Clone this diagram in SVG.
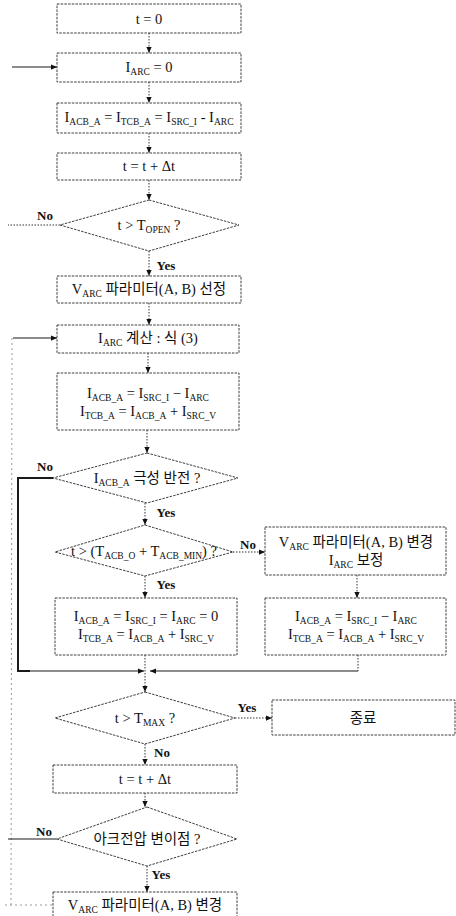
<svg xmlns="http://www.w3.org/2000/svg" width="456" height="916" viewBox="0 0 456 916">
<style>
.b{fill:#fff;stroke:#3c3c3c;stroke-width:1;stroke-dasharray:2.5 1.2}
.c{fill:none;stroke:#333;stroke-width:1;stroke-dasharray:1.5 1.5}
.s{fill:none;stroke:#1a1a1a;stroke-width:1.2}
.th{fill:none;stroke:#1a1a1a;stroke-width:2}
.f{fill:none;stroke:#999;stroke-width:1;stroke-dasharray:2 3}
text{font-family:"Liberation Serif","Noto Sans CJK KR",serif;font-size:14.5px;fill:#111;text-anchor:middle}
.sb{font-size:9.5px}
.lb{font-size:13px;font-weight:bold}
</style>
<defs>
<marker id="ah" viewBox="0 0 8 8" refX="8" refY="4" markerWidth="6" markerHeight="6" orient="auto" markerUnits="userSpaceOnUse">
<path d="M0,0.5 L8,4 L0,7.5 Z" fill="#111"/>
</marker>
</defs>

<g id="connectors">
<line class="c" x1="149" y1="33" x2="149" y2="53" marker-end="url(#ah)"/>
<line class="c" x1="149" y1="82" x2="149" y2="103" marker-end="url(#ah)"/>
<line class="c" x1="149" y1="133" x2="149" y2="153" marker-end="url(#ah)"/>
<line class="c" x1="149" y1="180" x2="149" y2="200" marker-end="url(#ah)"/>
<line class="c" x1="149" y1="251" x2="149" y2="276" marker-end="url(#ah)"/>
<line class="c" x1="149" y1="303" x2="149" y2="325" marker-end="url(#ah)"/>
<line class="c" x1="148" y1="353" x2="148" y2="373" marker-end="url(#ah)"/>
<line class="c" x1="147" y1="430" x2="147" y2="453" marker-end="url(#ah)"/>
<line class="c" x1="145" y1="503" x2="145" y2="525" marker-end="url(#ah)"/>
<line class="c" x1="145" y1="576" x2="145" y2="598" marker-end="url(#ah)"/>
<line class="c" x1="233" y1="552" x2="265" y2="552" marker-end="url(#ah)"/>
<line class="c" x1="357" y1="575" x2="357" y2="598" marker-end="url(#ah)"/>
<line class="c" x1="145" y1="655" x2="145" y2="692" marker-end="url(#ah)"/>
<line class="c" x1="358" y1="655" x2="358" y2="671"/>
<polyline class="s" points="358,671 150,671" marker-end="url(#ah)"/>
<polyline class="th" points="53,478 18,478 18,671 30,671"/>
<line class="s" x1="30" y1="671" x2="144" y2="671" marker-end="url(#ah)"/>
<line class="c" x1="235" y1="718" x2="272" y2="718" marker-end="url(#ah)"/>
<line class="c" x1="145" y1="744" x2="145" y2="765" marker-end="url(#ah)"/>
<line class="c" x1="145" y1="793" x2="145" y2="807" marker-end="url(#ah)"/>
<line class="c" x1="147" y1="866" x2="147" y2="892" marker-end="url(#ah)"/>
<line class="s" x1="12" y1="67" x2="57" y2="67" marker-end="url(#ah)"/>
<line class="c" x1="60" y1="225" x2="8" y2="225"/>
<line class="s" x1="13" y1="338" x2="57" y2="338" marker-end="url(#ah)"/>
<line class="f" x1="12" y1="338" x2="11" y2="905"/>
<line class="s" x1="57" y1="839" x2="8" y2="839"/>
<line class="f" x1="52" y1="905" x2="4" y2="905"/>
</g>

<g id="n1"><rect class="b" x="57" y="4" width="184" height="29"/>
<text x="149" y="24">t = 0</text></g>

<g id="n2"><rect class="b" x="57" y="53" width="184" height="29"/>
<text x="149" y="72">I<tspan class="sb" dy="3">ARC</tspan><tspan dy="-3"> = 0</tspan></text></g>

<g id="n3"><rect class="b" x="57" y="103" width="184" height="30"/>
<text x="149" y="122">I<tspan class="sb" dy="3">ACB_A</tspan><tspan dy="-3"> = I</tspan><tspan class="sb" dy="3">TCB_A</tspan><tspan dy="-3"> = I</tspan><tspan class="sb" dy="3">SRC_I</tspan><tspan dy="-3"> - I</tspan><tspan class="sb" dy="3">ARC</tspan></text></g>

<g id="n4"><rect class="b" x="57" y="153" width="184" height="27"/>
<text x="149" y="171">t = t + Δt</text></g>

<g id="n5"><polygon class="b" points="149,200 239,225 149,251 60,225"/>
<text x="149" y="230">t &gt; T<tspan class="sb" dy="3">OPEN</tspan><tspan dy="-3"> ?</tspan></text></g>

<g id="n6"><rect class="b" x="57" y="276" width="184" height="27"/>
<text x="149" y="294">V<tspan class="sb" dy="3">ARC</tspan><tspan dy="-3"> 파라미터(A, B) 선정</tspan></text></g>

<g id="n7"><rect class="b" x="57" y="325" width="182" height="28"/>
<text x="148" y="343">I<tspan class="sb" dy="3">ARC</tspan><tspan dy="-3"> 계산 : 식 (3)</tspan></text></g>

<g id="n8"><rect class="b" x="57" y="373" width="182" height="57"/>
<text x="148" y="398">I<tspan class="sb" dy="3">ACB_A</tspan><tspan dy="-3"> = I</tspan><tspan class="sb" dy="3">SRC_I</tspan><tspan dy="-3"> − I</tspan><tspan class="sb" dy="3">ARC</tspan></text>
<text x="148" y="416">I<tspan class="sb" dy="3">TCB_A</tspan><tspan dy="-3"> = I</tspan><tspan class="sb" dy="3">ACB_A</tspan><tspan dy="-3"> + I</tspan><tspan class="sb" dy="3">SRC_V</tspan></text></g>

<g id="n9"><polygon class="b" points="147,453 238,478 147,503 53,478"/>
<text x="147" y="483">I<tspan class="sb" dy="3">ACB_A</tspan><tspan dy="-3"> 극성 반전 ?</tspan></text></g>

<g id="n10"><polygon class="b" points="145,525 233,552 145,576 55,552"/>
<text x="144" y="556">t &gt; (T<tspan class="sb" dy="3">ACB_O</tspan><tspan dy="-3"> + T</tspan><tspan class="sb" dy="3">ACB_MIN</tspan><tspan dy="-3">) ?</tspan></text></g>

<g id="n11"><rect class="b" x="265" y="527" width="181" height="48"/>
<text x="356" y="547">V<tspan class="sb" dy="3">ARC</tspan><tspan dy="-3"> 파라미터(A, B) 변경</tspan></text>
<text x="356" y="565">I<tspan class="sb" dy="3">ARC</tspan><tspan dy="-3"> 보정</tspan></text></g>

<g id="n12"><rect class="b" x="55" y="598" width="182" height="57"/>
<text x="146" y="621">I<tspan class="sb" dy="3">ACB_A</tspan><tspan dy="-3"> = I</tspan><tspan class="sb" dy="3">SRC_I</tspan><tspan dy="-3"> = I</tspan><tspan class="sb" dy="3">ARC</tspan><tspan dy="-3"> = 0</tspan></text>
<text x="146" y="639">I<tspan class="sb" dy="3">TCB_A</tspan><tspan dy="-3"> = I</tspan><tspan class="sb" dy="3">ACB_A</tspan><tspan dy="-3"> + I</tspan><tspan class="sb" dy="3">SRC_V</tspan></text></g>

<g id="n13"><rect class="b" x="265" y="598" width="181" height="57"/>
<text x="356" y="621">I<tspan class="sb" dy="3">ACB_A</tspan><tspan dy="-3"> = I</tspan><tspan class="sb" dy="3">SRC_I</tspan><tspan dy="-3"> − I</tspan><tspan class="sb" dy="3">ARC</tspan></text>
<text x="356" y="639">I<tspan class="sb" dy="3">TCB_A</tspan><tspan dy="-3"> = I</tspan><tspan class="sb" dy="3">ACB_A</tspan><tspan dy="-3"> + I</tspan><tspan class="sb" dy="3">SRC_V</tspan></text></g>

<g id="n14"><polygon class="b" points="145,692 235,718 145,744 55,718"/>
<text x="145" y="723">t &gt; T<tspan class="sb" dy="3">MAX</tspan><tspan dy="-3"> ?</tspan></text></g>

<g id="n15"><rect class="b" x="272" y="700" width="183" height="35"/>
<text x="363" y="723">종료</text></g>

<g id="n16"><rect class="b" x="53" y="765" width="184" height="28"/>
<text x="145" y="784">t = t + Δt</text></g>

<g id="n17"><polygon class="b" points="147,807 237,839 147,866 57,839"/>
<text x="147" y="844">아크전압 변이점 ?</text></g>

<g id="n18"><rect class="b" x="53" y="892" width="184" height="30"/>
<text x="145" y="910">V<tspan class="sb" dy="3">ARC</tspan><tspan dy="-3"> 파라미터(A, B) 변경</tspan></text></g>

<g id="labels">
<text class="lb" x="45" y="220">No</text>
<text class="lb" x="166" y="270">Yes</text>
<text class="lb" x="45" y="471">No</text>
<text class="lb" x="166" y="517">Yes</text>
<text class="lb" x="248" y="549">No</text>
<text class="lb" x="166" y="589">Yes</text>
<text class="lb" x="247" y="712">Yes</text>
<text class="lb" x="162" y="757">No</text>
<text class="lb" x="44" y="836">No</text>
<text class="lb" x="161" y="879">Yes</text>
</g>
</svg>
